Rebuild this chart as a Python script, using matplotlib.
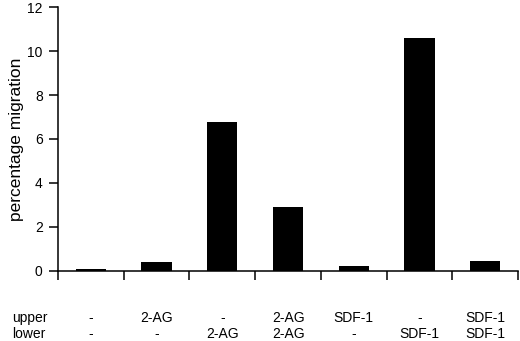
import numpy as np
import matplotlib
matplotlib.use('Agg')
import matplotlib.pyplot as plt
import matplotlib.transforms as mtransforms

plt.rcParams['font.family'] = ['Liberation Sans', 'DejaVu Sans']

values = [0.1, 0.4, 6.75, 2.88, 0.23, 10.6, 0.46]
upper = ['-', '2-AG', '-', '2-AG', 'SDF-1', '-', 'SDF-1']
lower = ['-', '-', '2-AG', '2-AG', '-', 'SDF-1', 'SDF-1']
yticks = [0, 2, 4, 6, 8, 10, 12]

fig = plt.figure(figsize=(5.2, 3.41), dpi=100)
ax = fig.add_axes([0.1115, 0.206, 0.885, 0.773])

x = np.arange(len(values))
ax.bar(x, values, width=0.46, color='black')

ax.set_xlim(-0.5, len(values) - 0.5)
ax.set_ylim(0, 12)
ax.set_yticks(yticks)
ax.set_xticks(np.arange(len(values) + 1) - 0.5)
ax.set_xticklabels([])
ax.tick_params(axis='both', length=6.5, width=1.1, labelsize=10)
ax.tick_params(axis='y', pad=4.5)
ax.set_ylabel('percentage migration', fontsize=12.5, labelpad=2)

for s in ['top', 'right']:
    ax.spines[s].set_visible(False)
for s in ['left', 'bottom']:
    ax.spines[s].set_linewidth(1.1)

trans = mtransforms.blended_transform_factory(ax.transData, fig.transFigure)
fig.text(12 / 520, 1 - 318 / 341, 'upper', fontsize=10, va='center')
fig.text(12 / 520, 1 - 334 / 341, 'lower', fontsize=10, va='center')
for i in range(len(values)):
    ax.text(x[i], 1 - 318 / 341, upper[i], transform=trans, fontsize=10,
            ha='center', va='center')
    ax.text(x[i], 1 - 334 / 341, lower[i], transform=trans, fontsize=10,
            ha='center', va='center')

fig.savefig('out.png', dpi=100)
